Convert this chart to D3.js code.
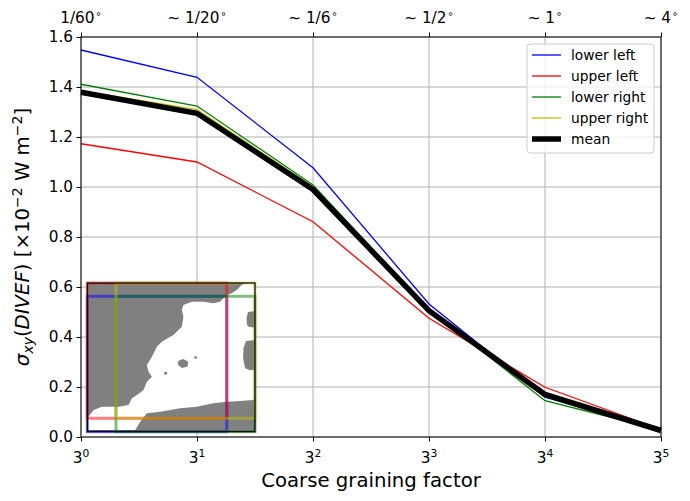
<!DOCTYPE html>
<html><head><meta charset="utf-8">
<script src="https://cdn.jsdelivr.net/npm/d3@7"></script>
<style>
html,body{margin:0;padding:0;background:#fff;}
text{font-family:"DejaVu Sans",sans-serif;}
</style></head>
<body>
<svg id="chart" width="690" height="501"></svg>
<script>
// ---- data ----
const factors = [1, 3, 9, 27, 81, 243];
const factorExponents = ["0", "1", "2", "3", "4", "5"];
const topLabels = ["1/60", "\u223C 1/20", "\u223C 1/6", "\u223C 1/2", "\u223C 1", "\u223C 4"];
const yTicks = [0, 0.2, 0.4, 0.6, 0.8, 1.0, 1.2, 1.4, 1.6];
const seriesNames = ["lower left", "upper left", "lower right", "upper right", "mean"];
const lowerLeft  = [1.548, 1.439, 1.077, 0.532, 0.159, 0.027];
const upperLeft  = [1.173, 1.100, 0.861, 0.475, 0.199, 0.030];
const lowerRight = [1.411, 1.324, 1.008, 0.510, 0.145, 0.028];
const upperRight = [1.385, 1.310, 1.001, 0.500, 0.170, 0.025];
const meanVals   = [1.379, 1.295, 0.990, 0.505, 0.170, 0.026];
// inset map (map grid units, 0..168 x 0..149), sea outline and islands
const seaOutline = [[1,133.7],[6.3,127],[14.7,123.7],[31.3,123.7],[41.3,122],[44.7,115.3],[49.7,112],[56.3,107],[59.7,98.7],[64.7,93.7],[61.3,88.7],[59.7,82],[64.7,73.7],[69.7,63.7],[74.7,58.7],[83,53.7],[86.3,52],[94.7,43.7],[96.3,33.7],[94.7,27],[96.3,22],[104.7,18.7],[116.3,18.7],[126.3,20.3],[133,18.7],[136.3,15.3],[139.7,12],[144.7,10.3],[149.7,7],[154.7,2],[158,0],[168,0],[168,28],[161,29],[159.5,35],[160,42],[162,44],[168,44.5],[168,57],[159,58],[156.5,65],[156,75],[158,85],[162,87],[168,87],[168,115.3],[166.3,117],[153,118],[139.7,118.7],[126.3,120.3],[109.7,123.7],[93,125.3],[73,128.7],[59.7,130.3],[53,138.7],[48,147],[1,147]];
const islands = [
  [[91,78],[96,76],[101,78.5],[100.5,83.5],[95,85],[91,82]],
  [[107,73.5],[110,73.5],[110,75.5],[107,75.5]],
  [[77,89],[80,89],[80,91.5],[77,91.5]]
];
const regionNames = ["lower left", "upper left", "lower right", "upper right"];
const regionX0 = [0, 0, 28.7, 28.7];
const regionX1 = [139.7, 139.7, 168, 168];
const regionY0 = [13.3, 0, 13.3, 0];
const regionY1 = [148.7, 135.3, 148.7, 135.3];

// ---- styles ----
const colors = ["#0000ff", "#ff0000", "#008000", "#bfbf00", "#000000"];
const widths = [1.3, 1.3, 1.3, 1.3, 5.5];
const allSeries = [lowerLeft, upperLeft, lowerRight, upperRight, meanVals];

const svg = d3.select("#chart");
const L = 81, R = 661, T = 37, B = 437;
const x = d3.scaleLog().base(3).domain([1, 243]).range([L, R]);
const y = d3.scaleLinear().domain([0, 1.6]).range([B, T]);

// grid
const grid = svg.append("g");
grid.selectAll("line.gx").data(factors).join("line")
  .attr("x1", d => x(d)).attr("x2", d => x(d)).attr("y1", T).attr("y2", B)
  .attr("stroke", "#b0b0b0").attr("stroke-width", 1);
grid.selectAll("line.gy").data(yTicks).join("line")
  .attr("x1", L).attr("x2", R).attr("y1", d => y(d)).attr("y2", d => y(d))
  .attr("stroke", "#b0b0b0").attr("stroke-width", 1);

// lines
const line = d3.line().x((d, i) => x(factors[i])).y(d => y(d));
allSeries.forEach((s, k) => {
  svg.append("path").datum(s).attr("d", line).attr("fill", "none")
    .attr("stroke", colors[k]).attr("stroke-width", widths[k])
    .attr("stroke-linejoin", "miter");
});

// inset
const iL = 87.3, iR = 255, iT = 283, iB = 431.7;
const mx = d3.scaleLinear().domain([0, 168]).range([iL, iR]);
const my = d3.scaleLinear().domain([0, 148.7]).range([iT, iB]);
const inset = svg.append("g");
inset.append("rect").attr("x", iL).attr("y", iT).attr("width", iR - iL).attr("height", iB - iT).attr("fill", "#808080");
const poly = d3.line().x(d => mx(d[0])).y(d => my(d[1]));
inset.append("path").attr("d", poly(seaOutline) + "Z").attr("fill", "#ffffff");
islands.forEach(p => inset.append("path").attr("d", poly(p) + "Z").attr("fill", "#808080"));
regionNames.forEach((n, k) => {
  inset.append("rect")
    .attr("x", mx(regionX0[k])).attr("y", my(regionY0[k]))
    .attr("width", mx(regionX1[k]) - mx(regionX0[k]))
    .attr("height", my(regionY1[k]) - my(regionY0[k]))
    .attr("fill", "none").attr("stroke", colors[k]).attr("stroke-opacity", 0.5).attr("stroke-width", 3);
});
inset.append("rect").attr("x", iL).attr("y", iT).attr("width", iR - iL).attr("height", iB - iT)
  .attr("fill", "none").attr("stroke", "#000").attr("stroke-width", 1.2);

// axes
const fs = 15.3;
const gB = svg.append("g").attr("transform", `translate(0,${B})`)
  .call(d3.axisBottom(x).tickValues(factors).tickFormat("").tickSize(4.5).tickSizeOuter(0));
const gT = svg.append("g").attr("transform", `translate(0,${T})`)
  .call(d3.axisTop(x).tickValues(factors).tickFormat("").tickSize(4.5).tickSizeOuter(0));
const gL = svg.append("g").attr("transform", `translate(${L},0)`)
  .call(d3.axisLeft(y).tickValues(yTicks).tickFormat(d3.format(".1f")).tickSize(4.5).tickPadding(3.5).tickSizeOuter(0));
[gB, gT, gL].forEach(g => {
  g.select(".domain").remove();
  g.selectAll(".tick line").attr("stroke", "#000").attr("stroke-width", 1);
});
gL.selectAll("text").attr("font-size", fs).attr("fill", "#000").attr("font-family", "DejaVu Sans");

// bottom labels 3^n
factors.forEach((f, i) => {
  const t = svg.append("text").attr("x", x(f)).attr("y", 463).attr("text-anchor", "middle")
    .attr("font-size", fs).attr("fill", "#000");
  t.append("tspan").text("3");
  t.append("tspan").attr("dy", -6).attr("font-size", 10.7).text(factorExponents[i]);
});
// top labels
topLabels.forEach((s, i) => {
  const t = svg.append("text").attr("x", x(factors[i])).attr("y", 23).attr("text-anchor", "middle")
    .attr("font-size", fs).attr("fill", "#000");
  t.append("tspan").text(s);
  t.append("tspan").attr("dy", -6).attr("font-size", 10).attr("dx", 1).text("\u2218");
});

// frame
svg.append("rect").attr("x", L).attr("y", T).attr("width", R - L).attr("height", B - T)
  .attr("fill", "none").attr("stroke", "#000").attr("stroke-width", 1);

// axis labels
svg.append("text").attr("x", (L + R) / 2).attr("y", 487).attr("text-anchor", "middle")
  .attr("font-size", 19.7).attr("fill", "#000").text("Coarse graining factor");
const yl = svg.append("text").attr("transform", `translate(29,${(T + B) / 2}) rotate(-90)`)
  .attr("text-anchor", "middle").attr("font-size", 19.7).attr("fill", "#000");
yl.append("tspan").attr("font-style", "italic").text("\u03C3");
yl.append("tspan").attr("font-style", "italic").attr("font-size", 14).attr("dy", 4).text("xy");
yl.append("tspan").attr("dy", -4).text("(");
yl.append("tspan").attr("font-style", "italic").text("DIVEF");
yl.append("tspan").text(") [\u00D710");
yl.append("tspan").attr("font-size", 14).attr("dy", -7.5).text("\u22122");
yl.append("tspan").attr("dy", 7.5).text(" W m");
yl.append("tspan").attr("font-size", 14).attr("dy", -7.5).text("\u22122");
yl.append("tspan").attr("dy", 7.5).text("]");

// legend
const lg = svg.append("g");
lg.append("rect").attr("x", 527).attr("y", 44).attr("width", 127).attr("height", 109).attr("rx", 3)
  .attr("fill", "#fff").attr("fill-opacity", 0.8).attr("stroke", "#cccccc").attr("stroke-width", 1);
const ly = d3.scaleLinear().domain([0, 4]).range([55, 139]);
seriesNames.forEach((n, k) => {
  lg.append("line").attr("x1", 532).attr("x2", 561).attr("y1", ly(k)).attr("y2", ly(k))
    .attr("stroke", colors[k]).attr("stroke-width", widths[k]);
  lg.append("text").attr("x", 571).attr("y", ly(k) + 4.8).attr("font-size", 13.8).attr("fill", "#000").text(n);
});
</script>
</body></html>
